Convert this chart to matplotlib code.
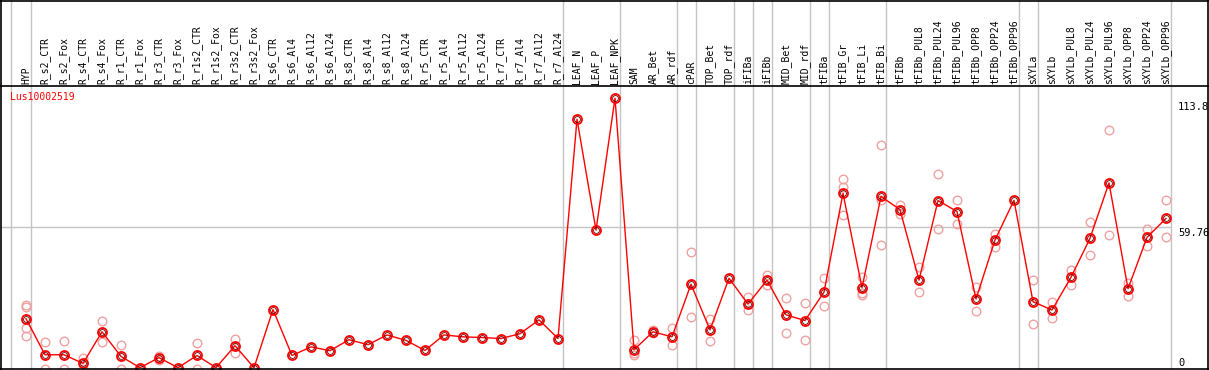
import matplotlib
matplotlib.use("Agg")
import matplotlib.pyplot as plt
import matplotlib.transforms as mtransforms
from matplotlib.lines import Line2D

categories = ["HYP", "R_s2_CTR", "R_s2_Fox", "R_s4_CTR", "R_s4_Fox", "R_r1_CTR", "R_r1_Fox",
              "R_r3_CTR", "R_r3_Fox", "R_r1s2_CTR", "R_r1s2_Fox", "R_r3s2_CTR", "R_r3s2_Fox",
              "R_s6_CTR", "R_s6_Al4", "R_s6_Al12", "R_s6_Al24", "R_s8_CTR", "R_s8_Al4",
              "R_s8_Al12", "R_s8_Al24", "R_r5_CTR", "R_r5_Al4", "R_r5_Al12", "R_r5_Al24",
              "R_r7_CTR", "R_r7_Al4", "R_r7_Al12", "R_r7_Al24", "LEAF_N", "LEAF_P", "LEAF_NPK",
              "SAM", "AR_Bet", "AR_rdf", "cPAR", "TOP_Bet", "TOP_rdf", "iFIBa", "iFIBb",
              "MID_Bet", "MID_rdf", "tFIBa", "tFIB_Gr", "tFIB_Li", "tFIB_Bi", "tFIBb",
              "tFIBb_PUL8", "tFIBb_PUL24", "tFIBb_PUL96", "tFIBb_OPP8", "tFIBb_OPP24",
              "tFIBb_OPP96", "sXYLa", "sXYLb", "sXYLb_PUL8", "sXYLb_PUL24", "sXYLb_PUL96",
              "sXYLb_OPP8", "sXYLb_OPP24", "sXYLb_OPP96"]

means = [21.6, 6.5, 6.5, 2.9, 16.1, 5.8, 1.1, 5.3, 1.1, 6.2, 1.1, 10.3, 1.1,
         25.4, 6.2, 9.8, 8.2, 12.8, 10.7, 14.8, 12.5, 8.3, 14.8, 14.0, 13.7,
         13.3, 15.3, 21.1, 13.3, 105.0, 58.6, 113.8,
         8.6, 16.1, 14.0, 36.0, 16.9, 38.5, 27.7, 37.7, 23.2, 20.8,
         32.7, 74.0, 34.5, 72.7, 67.2, 37.7, 71.0, 66.4, 29.8, 54.5, 71.1,
         28.7, 25.2, 38.9, 55.2, 78.4, 34.1, 55.6, 63.5]

replicates = [[27.4, 26.5, 17.7, 14.4], [11.9, 0.5], [12.3, 0.5], [5.3, 0.5], [20.7, 11.9],
              [10.7, 0.5], [], [5.8, 4.2], [], [11.5, 0.5], [], [13.3, 7.1], [],
              [], [], [], [], [], [], [], [], [], [], [], [], [], [], [], [], [], [], [],
              [12.5, 7.3, 6.4], [17.0, 15.7], [17.9, 10.7], [49.3, 22.3], [21.5, 12.1], [],
              [30.6, 25.2], [39.9, 35.7], [30.2, 15.7], [28.1, 12.8],
              [38.7, 26.9], [80.2, 76.8, 65.1], [39.2, 32.3, 31.3], [94.2, 71.4, 52.2],
              [69.1, 65.3], [43.2, 32.7], [82.2, 59.3], [71.4, 61.0], [35.0, 24.8],
              [57.2, 51.7], [],
              [37.7, 19.5], [28.6, 22.0], [42.0, 35.6], [62.2, 48.1], [100.5, 56.4],
              [36.6, 31.1], [59.3, 51.8], [71.4, 55.6]]

group_ends = [0, 28, 31, 34, 35, 37, 38, 39, 41, 42, 45, 52, 53, 60]
y_ticks = [113.8, 59.76, 0]
gene = "Lus10002519"

W, H = 1209, 370
fig = plt.figure(figsize=(W / 100, H / 100), dpi=100)

# plot region in pixels: x 1..1170.7, y 86..369 (from top)
ax = fig.add_axes([1 / W, 1 / H, 1169.7 / W, 283 / H])
ax.set_xlim((1 - 26) / 19, (1170.7 - 26) / 19)
ax.set_ylim((372 - 369) / 2.4056 - 0.7, (372 - 86) / 2.4056)
ax.axis("off")

grey = "#c4c4c4"
vt = mtransforms.blended_transform_factory(ax.transData, fig.transFigure)
for x in [-0.805] + [g + 0.24 for g in group_ends]:
    ax.plot([x, x], [1 / H, 1], color=grey, lw=1, transform=vt, clip_on=False, zorder=1)
ax.axhline(59.76, color=grey, lw=1, zorder=1)

xs = list(range(len(categories)))
for i, reps in enumerate(replicates):
    if reps:
        ax.plot([i] * len(reps), reps, "o", ms=6.2, mfc="none", mec="#f0a0a0", mew=1.0, zorder=2)

ax.plot(xs, means, "-", color="red", lw=1, zorder=3)
ax.plot(xs, means, "o", ms=6.5, mfc="none", mec="red", mew=1.3, zorder=4)
ax.plot(xs, means, "o", ms=4.2, mfc="none", mec="#600000", mew=0.6, zorder=5)

for i, name in enumerate(categories):
    ax.text(i, (H - 83.5) / H, name, transform=vt, rotation=90, ha="center", va="bottom",
            fontsize=7, family="DejaVu Sans Mono", clip_on=False)

fig.text(10 / W, (H - 97) / H, gene, color="red", fontsize=7, family="DejaVu Sans Mono",
         ha="left", va="center")

label_tops = [102, 227.5, 358]
for v, top in zip(y_ticks, label_tops):
    fig.text(1178 / W, (H - top) / H, f"{v:g}", fontsize=7.5, family="DejaVu Sans Mono",
             ha="left", va="top")

# frame lines
for (x0, y0, x1, y1) in [(0, 0.5, W, 0.5), (0, 85.5, W, 85.5), (0, 369, W, 369),
                         (1, 0, 1, 370), (1208, 0, 1208, 370)]:
    fig.add_artist(Line2D([x0 / W, x1 / W], [(H - y0) / H, (H - y1) / H], color="black",
                          lw=1.2, transform=fig.transFigure))

fig.savefig("out.png", dpi=100)
